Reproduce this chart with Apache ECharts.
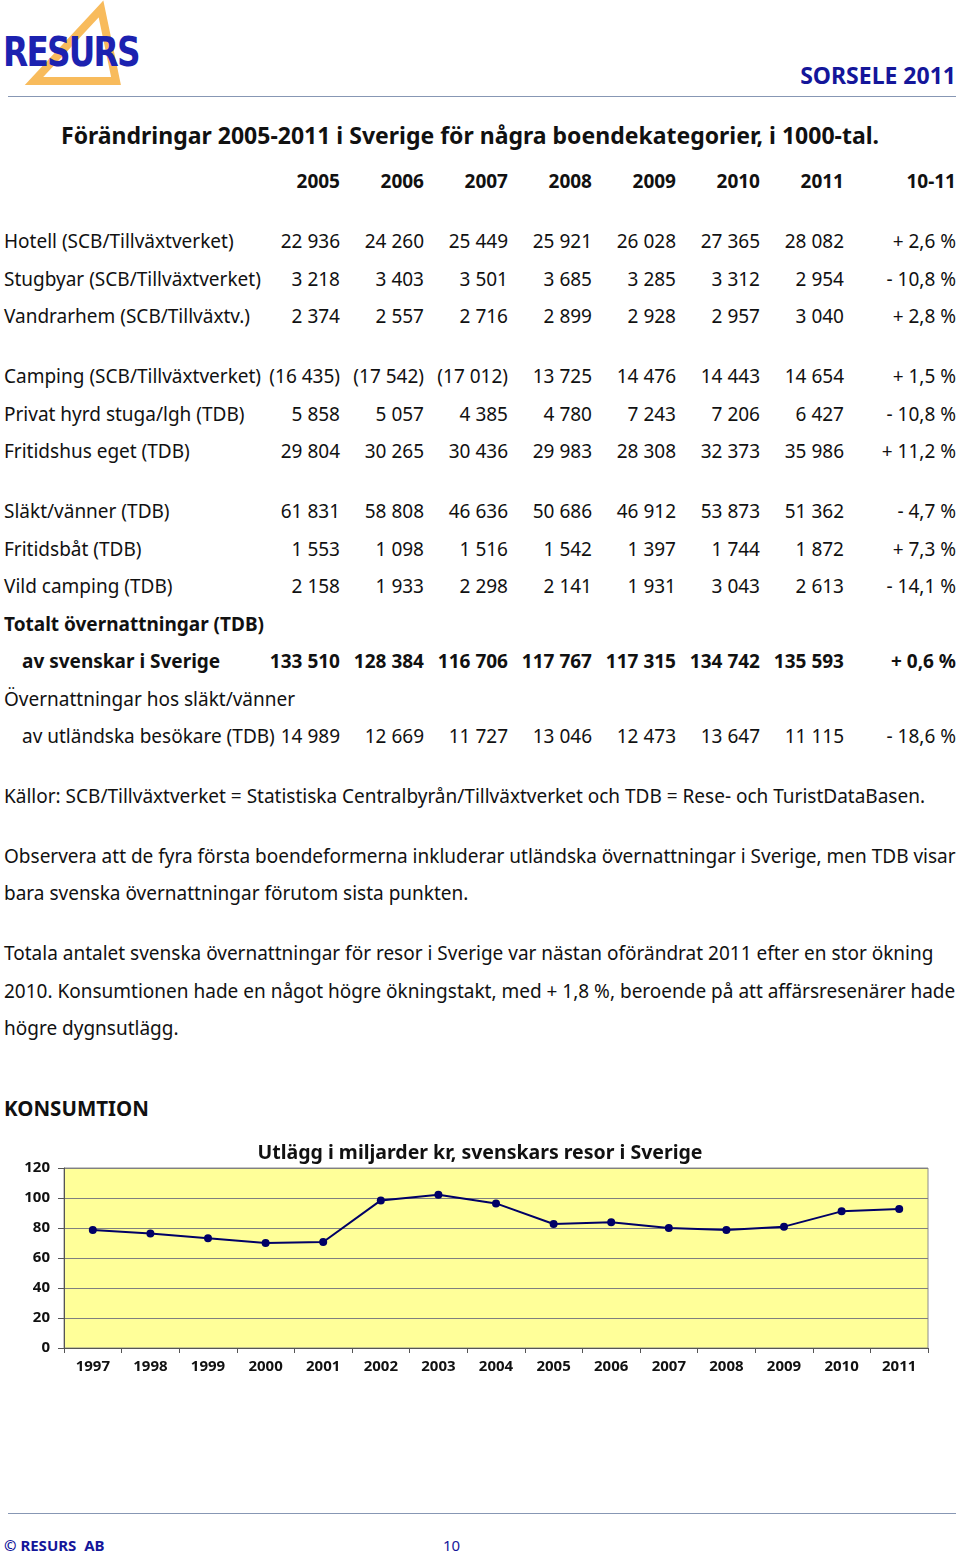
<!DOCTYPE html>
<html>
<head>
<meta charset="utf-8">
<script src="https://cdn.jsdelivr.net/npm/echarts@6/dist/echarts.min.js"></script>
<style>
  body { margin: 0; background: #fff; }
  #page { position: relative; width: 960px; height: 1556px; font-family: 'Noto Sans', sans-serif; color: #111; }
  .t { position: absolute; white-space: nowrap; line-height: 24px; font-size: 19px; }
  .b { font-weight: bold; }
  .hr { position: absolute; left: 8px; width: 948px; height: 0; border-top: 1.5px solid #8797b4; }
  #kons { position: absolute; left: 0; top: 1130px; width: 960px; height: 260px; }
</style>
</head>
<body>
<div id="page">
  <svg style="position:absolute;left:0;top:0" width="150" height="92">
    <polygon points="101,9 34,81 116,81" fill="none" stroke="#f8bb5c" stroke-width="8" stroke-linejoin="miter"/>
  </svg>
  <div class="t b" style="left:3px;top:30px;font-size:40px;line-height:44px;color:#1c22b0;letter-spacing:-2px;transform:scaleX(0.91);transform-origin:left center;font-family:'DejaVu Sans Condensed','DejaVu Sans',sans-serif">RESURS</div>
  <div class="t b" style="right:4px;top:63px;font-size:23px;color:#14169a">SORSELE 2011</div>
  <div class="hr" style="top:96px"></div>
  <div id="table"></div>
  <div id="kons"></div>
  <div class="hr" style="top:1513px"></div>
  <div class="t b" style="left:4px;top:1533px;font-size:15px;color:#14169a">© RESURS&nbsp;&nbsp;AB</div>
  <div class="t" style="left:443px;top:1533px;font-size:15px;color:#14169a">10</div>
</div>
<script>
// tabellen
var years = ['2005', '2006', '2007', '2008', '2009', '2010', '2011'];
var labels = ['Hotell (SCB/Tillväxtverket)', 'Stugbyar (SCB/Tillväxtverket)', 'Vandrarhem (SCB/Tillväxtv.)',
  'Camping (SCB/Tillväxtverket)', 'Privat hyrd stuga/lgh (TDB)', 'Fritidshus eget (TDB)',
  'Släkt/vänner (TDB)', 'Fritidsbåt (TDB)', 'Vild camping (TDB)', 'Totalt övernattningar (TDB)',
  'av svenskar i Sverige', 'Övernattningar hos släkt/vänner', 'av utländska besökare (TDB)'];
var hotell = ['22 936', '24 260', '25 449', '25 921', '26 028', '27 365', '28 082'];
var stugbyar = ['3 218', '3 403', '3 501', '3 685', '3 285', '3 312', '2 954'];
var vandrarhem = ['2 374', '2 557', '2 716', '2 899', '2 928', '2 957', '3 040'];
var camping = ['(16 435)', '(17 542)', '(17 012)', '13 725', '14 476', '14 443', '14 654'];
var privat = ['5 858', '5 057', '4 385', '4 780', '7 243', '7 206', '6 427'];
var fritidshus = ['29 804', '30 265', '30 436', '29 983', '28 308', '32 373', '35 986'];
var slakt = ['61 831', '58 808', '46 636', '50 686', '46 912', '53 873', '51 362'];
var fritidsbat = ['1 553', '1 098', '1 516', '1 542', '1 397', '1 744', '1 872'];
var vildCamping = ['2 158', '1 933', '2 298', '2 141', '1 931', '3 043', '2 613'];
var totalt = [];
var svenskar = ['133 510', '128 384', '116 706', '117 767', '117 315', '134 742', '135 593'];
var slaktRubrik = [];
var utlandska = ['14 989', '12 669', '11 727', '13 046', '12 473', '13 647', '11 115'];
var change = ['+ 2,6 %', '- 10,8 %', '+ 2,8 %', '+ 1,5 %', '- 10,8 %', '+ 11,2 %', '- 4,7 %',
  '+ 7,3 %', '- 14,1 %', '', '+ 0,6 %', '', '- 18,6 %'];

// konsumtion, miljarder kr
var konsYears = ['1997', '1998', '1999', '2000', '2001', '2002', '2003', '2004', '2005', '2006', '2007', '2008', '2009', '2010', '2011'];
var konsValues = [78.7, 76.4, 73.1, 70.0, 70.7, 98.4, 102.2, 96.4, 82.7, 83.8, 80.0, 78.7, 80.9, 91.1, 92.7];

var rowValues = [hotell, stugbyar, vandrarhem, camping, privat, fritidshus, slakt, fritidsbat, vildCamping,
  totalt, svenskar, slaktRubrik, utlandska];

// layout
var rowY = [241, 279, 316, 376, 414, 451, 511, 549, 586, 624, 661, 699, 736];
var boldRows = [9, 10];
var indentRows = [10, 12];
var colRight = [340, 424, 508, 592, 676, 760, 844];
var pctRight = 956;

var html = '';
function txt(s, x, y, cls, right, style) {
    var pos = right ? 'right:' + (960 - x) + 'px;' : 'left:' + x + 'px;';
    html += '<div class="t ' + (cls || '') + '" style="' + pos + 'top:' + (y - 12) + 'px;' + (style || '') + '">' + s + '</div>';
}

txt('Förändringar 2005-2011 i Sverige för några boendekategorier, i 1000-tal.', 61, 135, 'b', false, 'font-size:23px');
years.forEach(function (y, i) {
    txt(y, colRight[i], 181, 'b', true);
});
txt('10-11', pctRight, 181, 'b', true);

labels.forEach(function (label, r) {
    var b = boldRows.indexOf(r) >= 0 ? 'b' : '';
    var x = indentRows.indexOf(r) >= 0 ? 22 : 4;
    txt(label, x, rowY[r], b);
    rowValues[r].forEach(function (v, i) {
        txt(v, colRight[i], rowY[r], b, true);
    });
    if (change[r]) txt(change[r], pctRight, rowY[r], b, true);
});

txt('Källor: SCB/Tillväxtverket = Statistiska Centralbyrån/Tillväxtverket och TDB = Rese- och TuristDataBasen.', 4, 796);
txt('Observera att de fyra första boendeformerna inkluderar utländska övernattningar i Sverige, men TDB visar', 4, 856);
txt('bara svenska övernattningar förutom sista punkten.', 4, 893);
txt('Totala antalet svenska övernattningar för resor i Sverige var nästan oförändrat 2011 efter en stor ökning', 4, 953);
txt('2010. Konsumtionen hade en något högre ökningstakt, med + 1,8 %, beroende på att affärsresenärer hade', 4, 991);
txt('högre dygnsutlägg.', 4, 1028);
txt('KONSUMTION', 4, 1108, 'b', false, 'font-size:20.5px');

document.getElementById('table').innerHTML = html;

var chart = echarts.init(document.getElementById('kons'));
var axisFont = { fontFamily: 'Noto Sans', fontSize: 15, fontWeight: 'bold', color: '#111' };
chart.setOption({
    animation: false,
    title: {
        text: 'Utlägg i miljarder kr, svenskars resor i Sverige',
        left: 'center',
        top: 8,
        textStyle: { fontFamily: 'Noto Sans', fontSize: 19.5, fontWeight: 'bold', color: '#111' }
    },
    grid: {
        left: 64, right: 32, top: 38, bottom: 42,
        show: true, backgroundColor: '#FFFF99', borderColor: '#8c8c8c', borderWidth: 1
    },
    xAxis: {
        type: 'category',
        data: konsYears,
        boundaryGap: true,
        axisLine: { lineStyle: { color: '#555', width: 1 } },
        axisTick: { show: true, length: 5, lineStyle: { color: '#555' } },
        axisLabel: Object.assign({ margin: 11, interval: 0 }, axisFont)
    },
    yAxis: {
        type: 'value',
        min: 0, max: 120, interval: 20,
        axisLine: { show: true, lineStyle: { color: '#555' } },
        axisTick: { show: true, length: 6, lineStyle: { color: '#555' } },
        splitLine: { lineStyle: { color: '#808080' } },
        axisLabel: Object.assign({ margin: 14 }, axisFont)
    },
    series: [{
        type: 'line',
        data: konsValues,
        symbol: 'circle',
        symbolSize: 8,
        lineStyle: { color: '#000066', width: 2 },
        itemStyle: { color: '#000066' }
    }]
});
</script>
</body>
</html>
